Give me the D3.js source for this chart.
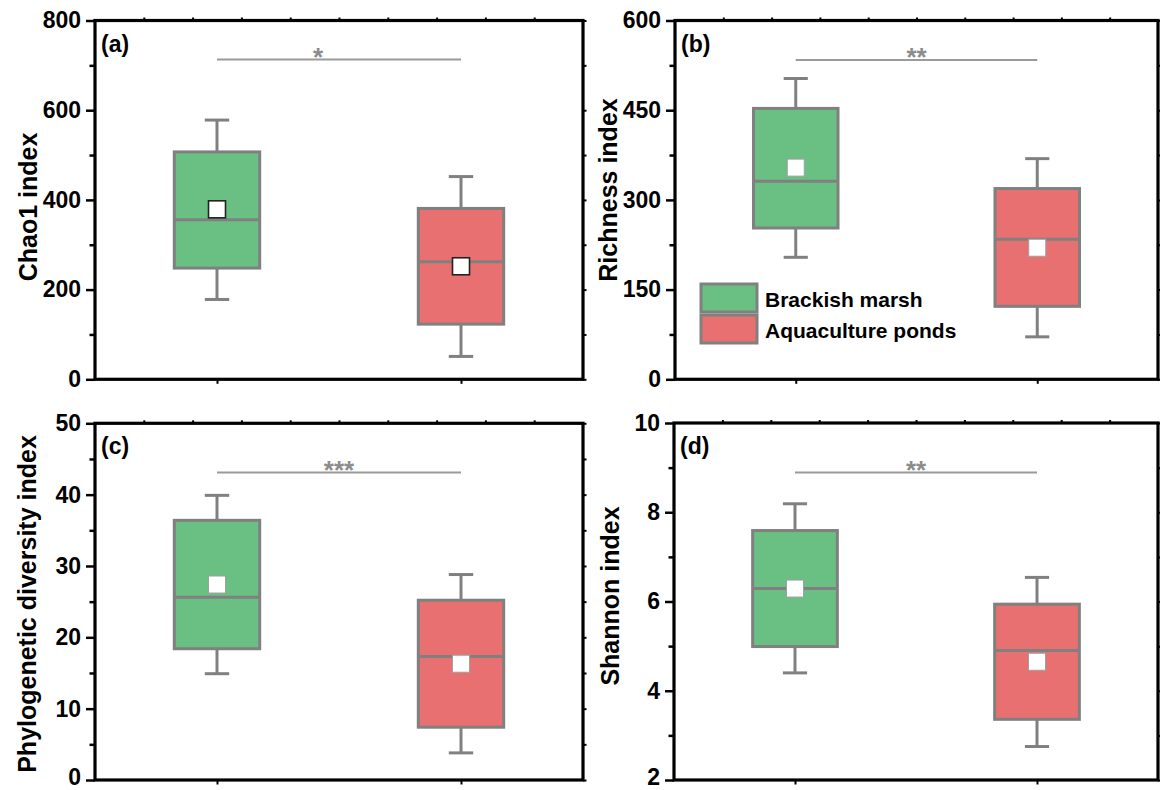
<!DOCTYPE html>
<html>
<head>
<meta charset="utf-8">
<script src="https://cdn.jsdelivr.net/npm/d3@7"></script>
<style>
  body { margin: 0; background: #fff; }
  svg { display: block; }
  text { font-family: "Liberation Sans", Arial, sans-serif; font-weight: bold; }
</style>
</head>
<body>
<svg id="chart" width="1160" height="790"></svg>
<script>
// ---- data ----
const groups = ["Brackish marsh", "Aquaculture ponds"];
const groupColors = ["#6abf83", "#e87070"];

// box statistics per group: [lower whisker, Q1, median, Q3, upper whisker, mean]
const chao1Stats    = [[178, 248, 356, 507, 578, 379], [51, 123, 262, 381, 452, 252]];
const richnessStats = [[204, 253, 331, 453, 503, 354], [71, 122, 234, 319, 369, 220]];
const pdStats       = [[14.9, 18.4, 25.6, 36.4, 39.9, 27.4], [3.8, 7.4, 17.3, 25.2, 28.8, 16.3]];
const shannonStats  = [[4.40, 4.99, 6.29, 7.59, 8.19, 6.29], [2.75, 3.36, 4.90, 5.94, 6.54, 4.65]];

const panelLetters = ["(a)", "(b)", "(c)", "(d)"];
const yTitles = ["Chao1 index", "Richness index", "Phylogenetic diversity index", "Shannon index"];
const yDomains = [[0, 800], [0, 600], [0, 50], [2, 10]];
const yMajorTicks = [[0, 200, 400, 600, 800], [0, 150, 300, 450, 600], [0, 10, 20, 30, 40, 50], [2, 4, 6, 8, 10]];
const yMinorStep = [100, 75, 5, 1];
const sigLevels = [713, 534, 43.1, 8.89];
const sigLabels = ["*", "**", "***", "**"];

const panelStats = [chao1Stats, richnessStats, pdStats, shannonStats];

// ---- layout ----
const layout = [
  { left: 95,  right: 583,  top: 20.5,  bottom: 379.3, titleX: 37,  titleY: 207, starDx: -21, lowLabelDy: 0 },
  { left: 675, right: 1158, top: 20.5,  bottom: 379.3, titleX: 617, titleY: 190, starDx: 0,   lowLabelDy: 0 },
  { left: 95,  right: 583,  top: 423.3, bottom: 780,   titleX: 36,  titleY: 604, starDx: 0,   lowLabelDy: -3 },
  { left: 674, right: 1158, top: 423,   bottom: 780,   titleX: 619, titleY: 596, starDx: 0,   lowLabelDy: -3 }
];

const boxStroke = "#808080";
const svg = d3.select("#chart");

layout.forEach((L, i) => {
  const g = svg.append("g");
  const x = d3.scalePoint().domain(groups).range([L.left, L.right]).padding(0.5);
  const xLin = d3.scaleLinear().domain([0.5, 2.5]).range([L.left, L.right]);
  const y = d3.scaleLinear().domain(yDomains[i]).range([L.bottom, L.top]);
  const step = x.step();
  const boxW = step * 0.35;
  const capW = step * 0.10;
  const [y0, y1] = yDomains[i];
  const minorVals = d3.range(y0, y1 + 1e-9, yMinorStep[i]);
  const minorOnly = minorVals.filter(v => !yMajorTicks[i].some(m => Math.abs(m - v) < 1e-9));

  // boxes
  panelStats[i].forEach((s, k) => {
    const cx = x(groups[k]);
    const [lo, q1, med, q3, hi, mean] = s;
    const bg = g.append("g");
    // whiskers
    bg.append("line").attr("x1", cx).attr("x2", cx).attr("y1", y(hi)).attr("y2", y(q3))
      .attr("stroke", boxStroke).attr("stroke-width", 3);
    bg.append("line").attr("x1", cx).attr("x2", cx).attr("y1", y(q1)).attr("y2", y(lo))
      .attr("stroke", boxStroke).attr("stroke-width", 3);
    [lo, hi].forEach(v => {
      bg.append("line").attr("x1", cx - capW / 2).attr("x2", cx + capW / 2)
        .attr("y1", y(v)).attr("y2", y(v)).attr("stroke", boxStroke).attr("stroke-width", 3);
    });
    bg.append("rect").attr("x", cx - boxW / 2).attr("y", y(q3))
      .attr("width", boxW).attr("height", y(q1) - y(q3))
      .attr("fill", groupColors[k]).attr("stroke", boxStroke).attr("stroke-width", 3);
    bg.append("line").attr("x1", cx - boxW / 2).attr("x2", cx + boxW / 2)
      .attr("y1", y(med)).attr("y2", y(med)).attr("stroke", boxStroke).attr("stroke-width", 3);
    const ms = 17;
    bg.append("rect").attr("x", cx - ms / 2).attr("y", y(mean) - ms / 2)
      .attr("width", ms).attr("height", ms).attr("fill", "#fff")
      .attr("stroke", i === 0 ? "#222" : "#a0a0a0").attr("stroke-width", i === 0 ? 1.6 : 1);
  });

  // significance bar
  const sy = y(sigLevels[i]);
  g.append("line").attr("x1", x(groups[0])).attr("x2", x(groups[1]))
    .attr("y1", sy).attr("y2", sy).attr("stroke", "#9a9a9a").attr("stroke-width", 2);
  g.append("text").attr("x", (x(groups[0]) + x(groups[1])) / 2 + L.starDx).attr("y", sy + 6)
    .attr("text-anchor", "middle").attr("font-size", 26).attr("fill", "#8c8c8c")
    .text(sigLabels[i]);

  // axes
  const leftMajor = d3.axisLeft(y).tickValues(yMajorTicks[i]).tickSize(9).tickPadding(5);
  const ga = g.append("g").attr("transform", `translate(${L.left},0)`).call(leftMajor);
  ga.select(".domain").remove();
  ga.selectAll("line").attr("stroke", "#000").attr("stroke-width", 2.5);
  ga.selectAll("text").attr("font-size", 23).attr("fill", "#000")
    .style("font-family", '"Liberation Sans", Arial, sans-serif').style("font-weight", "bold");
  // keep the lowest label of the bottom row inside the page
  ga.selectAll(".tick").filter(d => d === y0).select("text")
    .attr("transform", `translate(0,${L.lowLabelDy})`);

  const gm = g.append("g").attr("transform", `translate(${L.left},0)`)
    .call(d3.axisLeft(y).tickValues(minorOnly).tickSize(5.5).tickFormat(""));
  gm.select(".domain").remove();
  gm.selectAll("line").attr("stroke", "#000").attr("stroke-width", 2.5);

  const gr = g.append("g").attr("transform", `translate(${L.right},0)`)
    .call(d3.axisRight(y).tickValues(minorVals).tickSize(3.5).tickFormat(""));
  gr.select(".domain").remove();
  gr.selectAll("line").attr("stroke", "#000").attr("stroke-width", 2);

  const gt = g.append("g").attr("transform", `translate(0,${L.top})`)
    .call(d3.axisTop(xLin).tickValues(d3.range(0.7, 2.4, 0.2)).tickSize(3).tickFormat(""));
  gt.select(".domain").remove();
  gt.selectAll("line").attr("stroke", "#000").attr("stroke-width", 2);

  const gb = g.append("g").attr("transform", `translate(0,${L.bottom})`)
    .call(d3.axisBottom(x).tickSize(4.5).tickFormat(""));
  gb.select(".domain").remove();
  gb.selectAll("line").attr("stroke", "#000").attr("stroke-width", 2);

  // frame
  g.append("rect").attr("x", L.left).attr("y", L.top)
    .attr("width", L.right - L.left).attr("height", L.bottom - L.top)
    .attr("fill", "none").attr("stroke", "#000").attr("stroke-width", 3.2);

  // panel letter
  g.append("text").attr("x", L.left + 6).attr("y", L.top + 31)
    .attr("font-size", 23).attr("fill", "#000").text(panelLetters[i]);

  // y title
  g.append("text").attr("transform", `translate(${L.titleX},${L.titleY}) rotate(-90)`)
    .attr("text-anchor", "middle").attr("font-size", 25).attr("fill", "#000")
    .text(yTitles[i]);

  // legend inside panel (b)
  if (i === 1) {
    const lg = g.append("g");
    const sw = 56, sh = 28;
    groups.forEach((name, k) => {
      const top = 284 + k * 31;
      lg.append("rect").attr("x", 701).attr("y", top).attr("width", sw).attr("height", sh)
        .attr("fill", groupColors[k]).attr("stroke", boxStroke).attr("stroke-width", 3);
      lg.append("text").attr("x", 765).attr("y", top + 22.5)
        .attr("font-size", 21).attr("fill", "#000").text(name);
    });
  }
});
</script>
</body>
</html>
